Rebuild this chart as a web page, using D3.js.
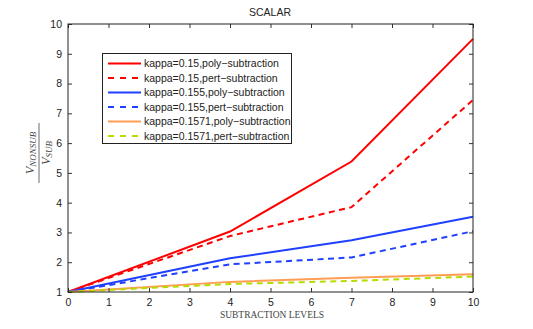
<!DOCTYPE html>
<html><head><meta charset="utf-8">
<script src="https://cdn.jsdelivr.net/npm/d3@7"></script>
<style>body{margin:0;background:#fff}</style>
</head><body>
<svg id="c" width="533" height="329"></svg>
<script>
const levels = [0, 4, 7, 10];
const seriesNames = [
  "kappa=0.15,poly\u2212subtraction",
  "kappa=0.15,pert\u2212subtraction",
  "kappa=0.155,poly\u2212subtraction",
  "kappa=0.155,pert\u2212subtraction",
  "kappa=0.1571,poly\u2212subtraction",
  "kappa=0.1571,pert\u2212subtraction"
];
const k150poly = [1, 3.03, 5.38, 9.5];
const k150pert = [1, 2.88, 3.85, 7.45];
const k155poly = [1, 2.13, 2.74, 3.53];
const k155pert = [1, 1.93, 2.16, 3.04];
const k1571poly = [1, 1.34, 1.48, 1.6];
const k1571pert = [1, 1.27, 1.37, 1.52];
const xTicks = [0,1,2,3,4,5,6,7,8,9,10];
const yTicks = [1,2,3,4,5,6,7,8,9,10];

const seriesValues = [k150poly,k150pert,k155poly,k155pert,k1571poly,k1571pert];
const colors = ["#ff0000","#ff0000","#2040ff","#2040ff","#ff9d55","#b4dc00"];
const dashed = [false,true,false,true,false,true];

const svg = d3.select("#c");
const L=68, R=473, T=24, B=292;
const x = d3.scaleLinear().domain([0,10]).range([L,R]);
const y = d3.scaleLinear().domain([1,10]).range([B,T]);
const font = "'Liberation Sans', Arial, sans-serif";
const serif = "'Liberation Serif', 'DejaVu Serif', serif";

// lines
const line = d3.line().x((d,i)=>x(levels[i])).y(d=>y(d));
seriesValues.forEach((vals,i)=>{
  svg.append("path").attr("d", line(vals)).attr("fill","none")
    .attr("stroke", colors[i]).attr("stroke-width", 2)
    .attr("stroke-dasharray", dashed[i] ? "6,4.5" : null);
});

// axes with inward ticks
const ax = (g)=>g.selectAll("text").attr("font-family",font).attr("font-size","10.5px").attr("fill","#222");
svg.append("g").attr("transform",`translate(0,${B})`)
  .call(d3.axisBottom(x).tickValues(xTicks).tickSizeInner(-4).tickSizeOuter(0).tickPadding(7))
  .call(g=>g.select(".domain").remove()).call(ax);
svg.append("g").attr("transform",`translate(${L},0)`)
  .call(d3.axisLeft(y).tickValues(yTicks).tickSizeInner(-4).tickSizeOuter(0).tickPadding(6))
  .call(g=>g.select(".domain").remove()).call(ax);
svg.append("g").attr("transform",`translate(0,${T})`)
  .call(d3.axisTop(x).tickValues(xTicks).tickSizeInner(-4).tickSizeOuter(0).tickFormat(""))
  .call(g=>g.select(".domain").remove());
svg.append("g").attr("transform",`translate(${R},0)`)
  .call(d3.axisRight(y).tickValues(yTicks).tickSizeInner(-4).tickSizeOuter(0).tickFormat(""))
  .call(g=>g.select(".domain").remove());
svg.selectAll(".tick line").attr("stroke","#333");
svg.append("rect").attr("x",L).attr("y",T).attr("width",R-L).attr("height",B-T)
  .attr("fill","none").attr("stroke","#222").attr("stroke-width",1);

// title
svg.append("text").attr("x",270).attr("y",16).attr("text-anchor","middle")
  .attr("font-family",font).attr("font-size","10.5px").attr("fill","#222").text("SCALAR");
// x label
svg.append("text").attr("x",272).attr("y",318).attr("text-anchor","middle")
  .attr("font-family",serif).attr("font-size","9.5px").attr("fill","#444")
  .text("SUBTRACTION LEVELS");
// y label fraction
const yl = svg.append("g").attr("transform","translate(39,153) rotate(-90)");
const num = yl.append("text").attr("x",0).attr("y",-5.5).attr("text-anchor","middle")
  .attr("font-family",serif).attr("font-style","italic").attr("fill","#444");
num.append("tspan").attr("font-size","12.5px").text("V");
num.append("tspan").attr("font-size","9px").attr("dy",2).text("NONSUB");
yl.append("line").attr("x1",-30).attr("x2",30).attr("y1",0).attr("y2",0).attr("stroke","#444").attr("stroke-width",0.8);
const den = yl.append("text").attr("x",0).attr("y",10.5).attr("text-anchor","middle")
  .attr("font-family",serif).attr("font-style","italic").attr("fill","#444");
den.append("tspan").attr("font-size","12.5px").text("V");
den.append("tspan").attr("font-size","9px").attr("dy",2).text("SUB");

// legend
const lg = svg.append("g");
lg.append("rect").attr("x",102.5).attr("y",53.5).attr("width",189).attr("height",90)
  .attr("fill","#fff").attr("stroke","#222").attr("stroke-width",1);
seriesNames.forEach((n,i)=>{
  const yy = 63.5 + i*14.5;
  lg.append("line").attr("x1",108).attr("x2",141).attr("y1",yy).attr("y2",yy)
    .attr("stroke",colors[i]).attr("stroke-width",2)
    .attr("stroke-dasharray", dashed[i] ? "6,6" : null);
  lg.append("text").attr("x",144).attr("y",yy+3.8).attr("font-family",font)
    .attr("font-size","10.5px").attr("fill","#222").text(n);
});
</script>
</body></html>
